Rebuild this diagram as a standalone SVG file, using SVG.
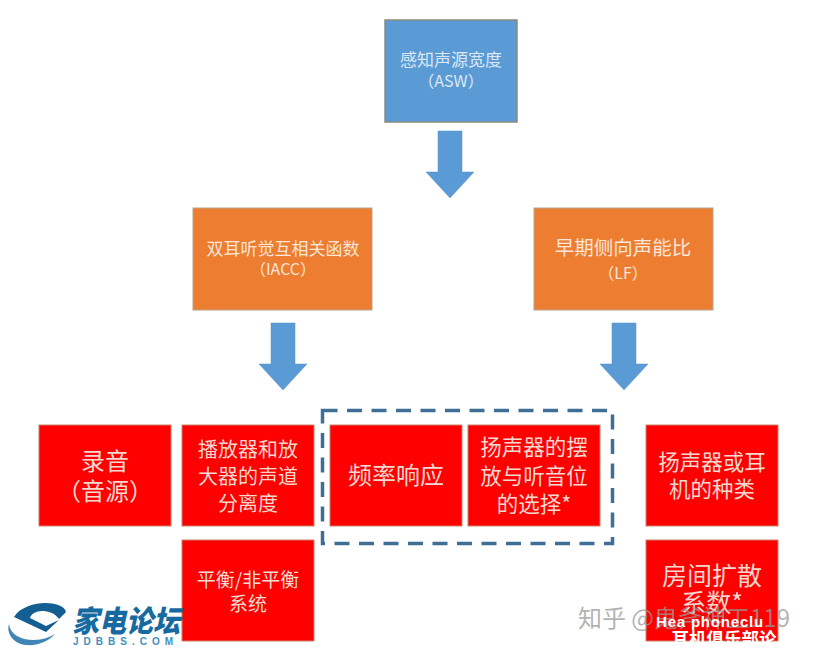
<svg xmlns="http://www.w3.org/2000/svg" width="813" height="653" viewBox="0 0 813 653">
<style>
text{font-family:"Noto Sans CJK SC","Liberation Sans",sans-serif;text-anchor:middle}
.blue{fill:#5b9bd5;stroke:#8a8a80;stroke-width:1.5}
.org{fill:#ed7d31;stroke:#b9a48e;stroke-width:1}
.red{fill:#ff0000;stroke:#c8816a;stroke-width:1}
.arrow{fill:#5b9bd5;stroke:#5a93c8;stroke-width:.5}
.t1{fill:#f3dcd4;font-size:19px}
.t2{fill:#f6d8d0;font-size:20px}
.t2b{fill:#f6d8d0;font-size:21.500px}
.t3{fill:#f6d8d0;font-size:24px}
.tb{fill:#dbe8f4;font-size:17px}
.to{fill:#fbe6d8;font-size:17px}
.to2{fill:#fbe6d8;font-size:19.500px}
</style>
<rect width="813" height="653" fill="#fff"/>
<g id="connectors">
<path class="arrow" d="M438 131H462V172H474L450 198L426 172H438Z"/>
<path class="arrow" d="M271 323H295V364H307L283 390L259 364H271Z"/>
<path class="arrow" d="M612 323H636V364H648L624 390L600 364H612Z"/>
</g>
<g id="asw"><rect class="blue" x="385" y="20" width="132" height="102"/>
<text class="tb" x="451" y="66">感知声源宽度</text><text class="tb" x="451" y="87" style="font-size:16px">（ASW）</text></g>
<g id="iacc"><rect class="org" x="193" y="208" width="179" height="102"/>
<text class="to" x="283" y="255">双耳听觉互相关函数</text><text class="to" x="283" y="275" style="font-size:16px">（IACC）</text></g>
<g id="lf"><rect class="org" x="534" y="208" width="179" height="102"/>
<text class="to2" x="623" y="255">早期侧向声能比</text><text class="to" x="623" y="279" style="font-size:16px">（LF）</text></g>
<g id="recording"><rect class="red" x="39" y="425" width="132" height="101"/>
<text class="t3" x="105" y="470">录音</text><text class="t3" x="105" y="500">（音源）</text></g>
<g id="separation"><rect class="red" x="182" y="425" width="132" height="101"/>
<text class="t2" x="248" y="457">播放器和放</text><text class="t2" x="248" y="484">大器的声道</text><text class="t2" x="248" y="511">分离度</text></g>
<g id="frequency"><rect class="red" x="330" y="425" width="132" height="101"/>
<text class="t3" x="396" y="484">频率响应</text></g>
<g id="placement"><rect class="red" x="468" y="425" width="132" height="101"/>
<text class="t2b" x="534" y="455">扬声器的摆</text><text class="t2b" x="534" y="484">放与听音位</text><text class="t2b" x="534" y="512">的选择*</text></g>
<g id="speaker-type"><rect class="red" x="646" y="425" width="132" height="101"/>
<text class="t2b" x="712" y="470">扬声器或耳</text><text class="t2b" x="712" y="497">机的种类</text></g>
<g id="balance"><rect class="red" x="182" y="540" width="132" height="101"/>
<text class="t1" x="248" y="587">平衡/非平衡</text><text class="t1" x="248" y="611">系统</text></g>
<g id="diffusion"><rect class="red" x="646" y="540" width="132" height="101"/>
<text class="t3" x="712" y="585" style="font-size:25px">房间扩散</text><text class="t3" x="712" y="612" style="font-size:25px">系数*</text></g>
<rect id="group-box" x="322.500" y="410.500" width="290" height="133" fill="none" stroke="#3f6f96" stroke-width="3.500" stroke-dasharray="15 9.500"/>
<g id="watermarks">
<text x="684" y="627" style="font-size:24px;fill:#9a9a9a;fill-opacity:.75">知乎 @鬼斧神工119</text>
<text x="710" y="627" style="font-size:15px;fill:#fff;font-weight:700;font-family:'Liberation Sans',sans-serif;letter-spacing:.8px">Hea  phoneclu</text>
<text x="724" y="645" style="font-size:17.500px;fill:#fff;font-weight:700">耳机俱乐部论</text>
</g>
<g id="logo">
<path fill="#135f92" d="M14 617C20 607 35 603 45 603C55 603 65 606 66 612L59 619C55 613 48 611 42 611C36 611 31 614 30 618L46 626L59 620L46 632Z"/>
<path fill="#3f86b4" d="M9 624C10 634 20 640 34 640C42 640 50 637 55 634C48 642 36 646 26 645C14 644 6 634 9 624Z"/>
<text x="126" y="632" style="font-size:30px;font-weight:900;font-style:italic;fill:#176a9f" textLength="108" lengthAdjust="spacingAndGlyphs">家电论坛</text>
<text x="123" y="645" style="font-size:10px;font-weight:700;fill:#3f8fc0;font-family:'Liberation Sans',sans-serif" textLength="100" lengthAdjust="spacing">JDBBS.COM</text>
</g>
</svg>
